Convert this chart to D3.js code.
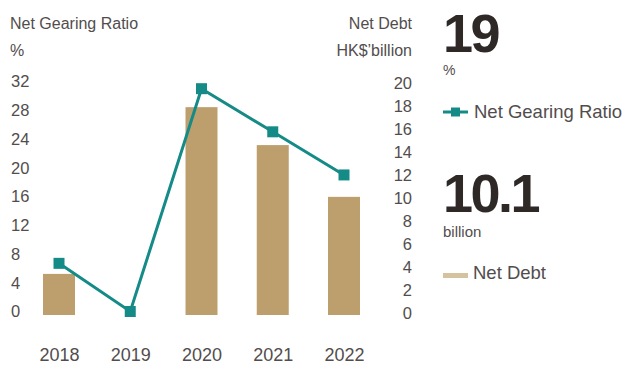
<!DOCTYPE html>
<html>
<head>
<meta charset="utf-8">
<script src="https://cdn.jsdelivr.net/npm/d3@7"></script>
<style>
  html, body { margin: 0; padding: 0; background: #fff; }
  svg { display: block; }
  text { font-family: "Liberation Sans", Arial, sans-serif; }
</style>
</head>
<body>
<svg id="chart" width="622" height="365"></svg>
<script>
// Yearly figures
const years = ["2018", "2019", "2020", "2021", "2022"];
const netGearing = [6.7, 0, 31.0, 25.0, 19];      // %
const netDebt = [3.4, 0, 17.9, 14.6, 10.1];        // HK$ billion
const gearingTicks = [0, 4, 8, 12, 16, 20, 24, 28, 32];
const debtTicks = [0, 2, 4, 6, 8, 10, 12, 14, 16, 18, 20];

// Highlight figures for the latest year
const latestGearing = "19";
const latestDebt = "10.1";

const tealColor = "#148b86";
const barColor = "#bd9f6e";
const swatchColor = "#d4c39e";
const textColor = "#524d4d";
const bigColor = "#2e2926";

const svg = d3.select("#chart");

const x = d3.scalePoint().domain(years).range([59, 344]);
const yLeft = d3.scaleLinear().domain([0, 32]).range([311.5, 81.5]);
const yRight = d3.scaleLinear().domain([0, 20]).range([313, 83]);
const barWidth = 32;
const baseDrop = 2;

// Left axis (%)
const leftAxis = d3.axisLeft(yLeft).tickValues(gearingTicks).tickSize(0).tickPadding(0);
const gL = svg.append("g").attr("transform", "translate(11,0)").call(leftAxis);
gL.select(".domain").remove();
gL.selectAll("text")
  .attr("text-anchor", "start")
  .attr("x", 0)
  .style("font-size", "16.5px")
  .style("fill", textColor)
  .style("font-family", "'Liberation Sans', Arial, sans-serif");

// Right axis (HK$ billion)
const rightAxis = d3.axisRight(yRight).tickValues(debtTicks).tickSize(0).tickPadding(0);
const gR = svg.append("g").attr("transform", "translate(412,0)").call(rightAxis);
gR.select(".domain").remove();
gR.selectAll("text")
  .attr("text-anchor", "end")
  .attr("x", 0)
  .style("font-size", "16.5px")
  .style("fill", textColor)
  .style("font-family", "'Liberation Sans', Arial, sans-serif");

// Year axis
const xAxis = d3.axisBottom(x).tickSize(0).tickPadding(0);
const gX = svg.append("g").attr("transform", "translate(0,348)").call(xAxis);
gX.select(".domain").remove();
gX.selectAll("text")
  .attr("dy", "0.71em")
  .style("font-size", "18px")
  .style("fill", textColor)
  .style("font-family", "'Liberation Sans', Arial, sans-serif");

// Axis titles
const titles = [
  { t: "Net Gearing Ratio", x: 10, y: 23, a: "start" },
  { t: "%", x: 10, y: 50, a: "start" },
  { t: "Net Debt", x: 412, y: 23, a: "end" },
  { t: "HK$\u2019billion", x: 412, y: 50, a: "end" }
];
svg.selectAll("text.title").data(titles).join("text")
  .attr("class", "title")
  .attr("x", d => d.x).attr("y", d => d.y)
  .attr("dy", "0.35em")
  .attr("text-anchor", d => d.a)
  .style("font-size", "16px")
  .style("fill", textColor)
  .text(d => d.t);

// Net debt bars
svg.append("g").selectAll("rect").data(years.map((yr, i) => ({ yr, v: netDebt[i] })))
  .join("rect")
  .filter(d => d.v > 0)
  .attr("x", d => x(d.yr) - barWidth / 2)
  .attr("y", d => yRight(d.v))
  .attr("width", barWidth)
  .attr("height", d => yRight(0) - yRight(d.v) + baseDrop)
  .attr("fill", barColor);

// Net gearing line with square markers
const pts = years.map((yr, i) => ({ yr, v: netGearing[i] }));
svg.append("path")
  .datum(pts)
  .attr("fill", "none")
  .attr("stroke", tealColor)
  .attr("stroke-width", 3)
  .attr("d", d3.line().x(d => x(d.yr)).y(d => yLeft(d.v)));

const ms = 11;
svg.append("g").selectAll("rect").data(pts).join("rect")
  .attr("x", d => x(d.yr) - ms / 2)
  .attr("y", d => yLeft(d.v) - ms / 2)
  .attr("width", ms).attr("height", ms)
  .attr("fill", tealColor);

// Side panel: latest figures and legend
const panelX = 443;
svg.append("text")
  .attr("x", panelX).attr("y", 52)
  .style("font-size", "54px").style("font-weight", "bold")
  .style("letter-spacing", "-2.5px")
  .style("fill", bigColor)
  .text(latestGearing);
svg.append("text")
  .attr("x", panelX).attr("y", 70).attr("dy", "0.35em")
  .style("font-size", "14px").style("fill", textColor)
  .text("%");

const lg = svg.append("g").attr("transform", `translate(${panelX},112)`);
lg.append("line").attr("x1", 0).attr("x2", 25).attr("y1", 0).attr("y2", 0)
  .attr("stroke", tealColor).attr("stroke-width", 3);
lg.append("rect").attr("x", 8).attr("y", -4.5).attr("width", 9).attr("height", 9)
  .attr("fill", tealColor);
lg.append("text").attr("x", 31).attr("y", 0).attr("dy", "0.35em")
  .style("font-size", "18.5px").style("fill", textColor)
  .text("Net Gearing Ratio");

svg.append("text")
  .attr("x", panelX).attr("y", 211.5)
  .style("font-size", "54px").style("font-weight", "bold")
  .style("letter-spacing", "-2.5px")
  .style("fill", bigColor)
  .text(latestDebt);
svg.append("text")
  .attr("x", panelX).attr("y", 232).attr("dy", "0.35em")
  .style("font-size", "15px").style("fill", textColor)
  .text("billion");

const lg2 = svg.append("g").attr("transform", `translate(${panelX},273)`);
lg2.append("rect").attr("x", 0).attr("y", 0).attr("width", 25).attr("height", 5)
  .attr("fill", swatchColor);
lg2.append("text").attr("x", 30).attr("y", 0).attr("dy", "0.35em")
  .style("font-size", "18.5px").style("fill", textColor)
  .text("Net Debt");
</script>
</body>
</html>
